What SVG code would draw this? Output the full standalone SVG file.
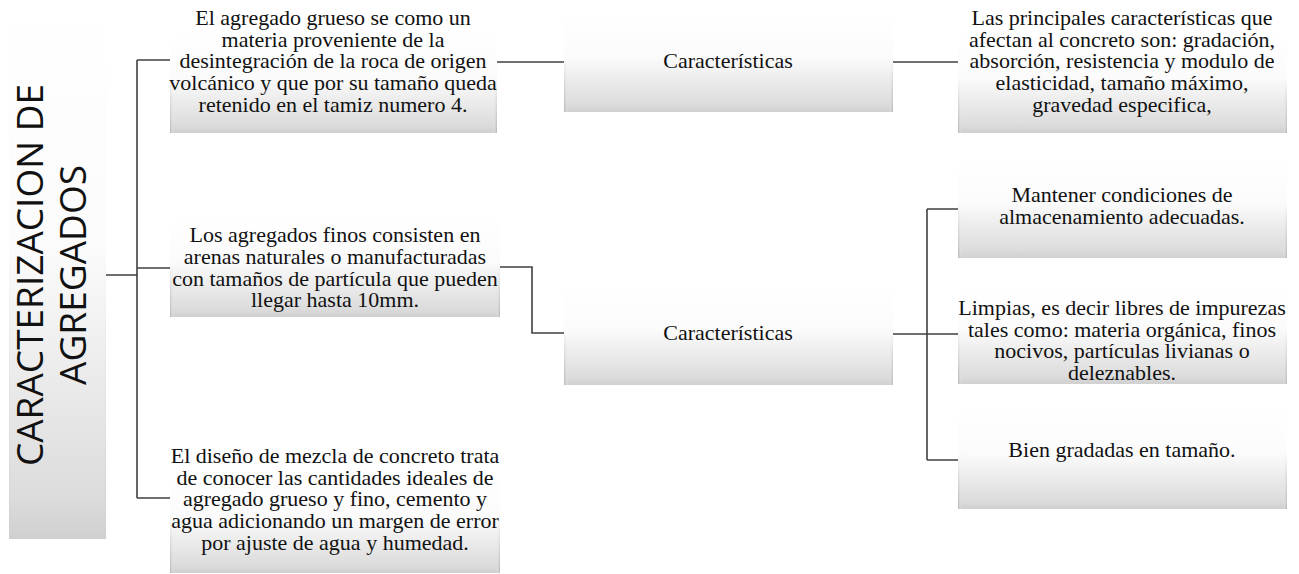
<svg xmlns="http://www.w3.org/2000/svg" width="1299" height="574" viewBox="0 0 1299 574">
<style>
.box{fill:url(#g)}
.edge{fill:url(#e);mask:url(#m)}
.t{font-family:"Liberation Serif","Times New Roman",serif;font-size:22px;fill:#111;text-anchor:middle}
.root{font-family:"Open Sans","Noto Sans",sans-serif;font-size:37px;fill:#111;text-anchor:middle}
.c{fill:none;stroke:#404040;stroke-width:1.6}
</style>
<defs>
<linearGradient id="g" x1="0" y1="0" x2="0" y2="1">
<stop offset="0" stop-color="#ffffff"/>
<stop offset="0.45" stop-color="#fbfbfb"/>
<stop offset="0.92" stop-color="#dcdcdc"/>
<stop offset="1" stop-color="#d0d0d0"/>
</linearGradient>
<linearGradient id="e" x1="0" y1="0" x2="1" y2="0">
<stop offset="0" stop-color="#a8a8a8" stop-opacity="0.7"/>
<stop offset="0.012" stop-color="#ffffff" stop-opacity="0"/>
<stop offset="0.988" stop-color="#ffffff" stop-opacity="0"/>
<stop offset="1" stop-color="#a8a8a8" stop-opacity="0.7"/>
</linearGradient>
<linearGradient id="mg" x1="0" y1="0" x2="0" y2="1">
<stop offset="0" stop-color="#000"/>
<stop offset="0.45" stop-color="#000"/>
<stop offset="1" stop-color="#fff"/>
</linearGradient>
<mask id="m" maskContentUnits="objectBoundingBox">
<rect x="0" y="0" width="1" height="1" fill="url(#mg)"/>
</mask>
</defs>
<g id="connectors">
<path class="c" d="M106,275 H137 M137,60 V498 M137,60 H170 M137,268 H170 M137,498 H170"/>
<path class="c" d="M497,62 H564"/>
<path class="c" d="M893,62 H958"/>
<path class="c" d="M500,267 H532 V333 H564"/>
<path class="c" d="M893,334 H958 M927,209 V460 M927,209 H958 M927,460 H958"/>
</g>
<g id="root">
<rect class="box" x="9" y="10" width="97" height="529"/>
<rect class="edge" x="9" y="10" width="97" height="529"/>
<text class="root" transform="translate(43,275) rotate(-90)"><tspan x="0" y="0">CARACTERIZACION DE</tspan><tspan x="0" y="43">AGREGADOS</tspan></text>
</g>
<g id="n1">
<rect class="box" x="170" y="33" width="327" height="100"/>
<rect class="edge" x="170" y="33" width="327" height="100"/>
<text class="t"><tspan x="333" y="25">El agregado grueso se como un</tspan><tspan x="333" y="47">materia proveniente de la</tspan><tspan x="333" y="68">desintegración de la roca de origen</tspan><tspan x="333" y="90">volcánico y que por su tamaño queda</tspan><tspan x="333" y="112">retenido en el tamiz numero 4.</tspan></text>
</g>
<g id="n2">
<rect class="box" x="170" y="217" width="330" height="100"/>
<rect class="edge" x="170" y="217" width="330" height="100"/>
<text class="t"><tspan x="335" y="242">Los agregados finos consisten en</tspan><tspan x="335" y="264">arenas naturales o manufacturadas</tspan><tspan x="335" y="286">con tamaños de partícula que pueden</tspan><tspan x="335" y="307">llegar hasta 10mm.</tspan></text>
</g>
<g id="n3">
<rect class="box" x="170" y="473" width="330" height="100"/>
<rect class="edge" x="170" y="473" width="330" height="100"/>
<text class="t"><tspan x="335" y="463">El diseño de mezcla de concreto trata</tspan><tspan x="335" y="485">de conocer las cantidades ideales de</tspan><tspan x="335" y="506">agregado grueso y fino, cemento y</tspan><tspan x="335" y="528">agua adicionando un margen de error</tspan><tspan x="335" y="550">por ajuste de agua y humedad.</tspan></text>
</g>
<g id="c1">
<rect class="box" x="564" y="12" width="329" height="100"/>
<rect class="edge" x="564" y="12" width="329" height="100"/>
<text class="t" x="728" y="68">Características</text>
</g>
<g id="c2">
<rect class="box" x="564" y="285" width="329" height="100"/>
<rect class="edge" x="564" y="285" width="329" height="100"/>
<text class="t" x="728" y="340">Características</text>
</g>
<g id="r1">
<rect class="box" x="958" y="33" width="329" height="100"/>
<rect class="edge" x="958" y="33" width="329" height="100"/>
<text class="t"><tspan x="1122" y="25">Las principales características que</tspan><tspan x="1122" y="47">afectan al concreto son: gradación,</tspan><tspan x="1122" y="68">absorción, resistencia y modulo de</tspan><tspan x="1122" y="90">elasticidad, tamaño máximo,</tspan><tspan x="1122" y="112">gravedad especifica,</tspan></text>
</g>
<g id="r2">
<rect class="box" x="958" y="158" width="329" height="100"/>
<rect class="edge" x="958" y="158" width="329" height="100"/>
<text class="t"><tspan x="1122" y="202">Mantener condiciones de</tspan><tspan x="1122" y="224">almacenamiento adecuadas.</tspan></text>
</g>
<g id="r3">
<rect class="box" x="958" y="284" width="329" height="100"/>
<rect class="edge" x="958" y="284" width="329" height="100"/>
<text class="t"><tspan x="1122" y="315">Limpias, es decir libres de impurezas</tspan><tspan x="1122" y="337">tales como: materia orgánica, finos</tspan><tspan x="1122" y="358">nocivos, partículas livianas o</tspan><tspan x="1122" y="380">deleznables.</tspan></text>
</g>
<g id="r4">
<rect class="box" x="958" y="409" width="329" height="100"/>
<rect class="edge" x="958" y="409" width="329" height="100"/>
<text class="t" x="1122" y="457">Bien gradadas en tamaño.</text>
</g>
</svg>
